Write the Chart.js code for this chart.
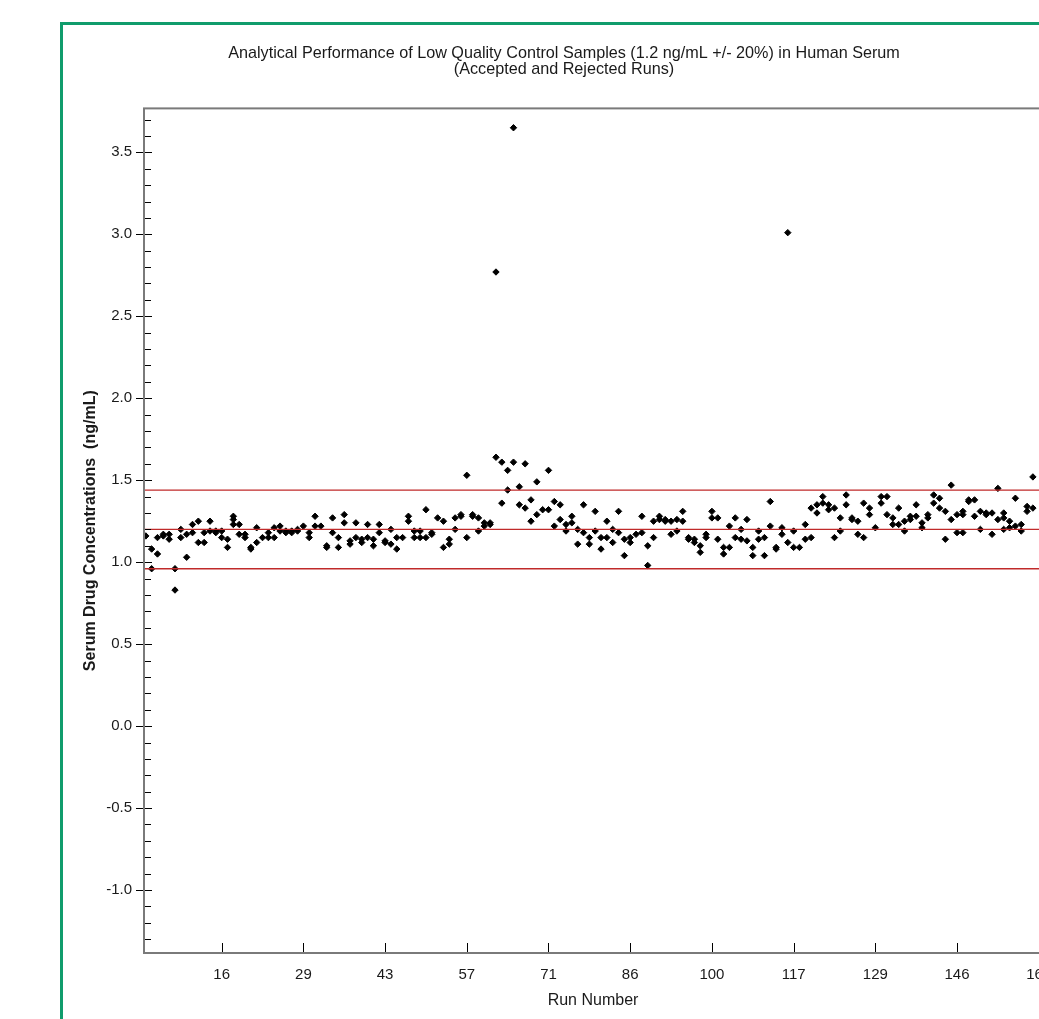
<!DOCTYPE html>
<html>
<head>
<meta charset="utf-8">
<title>Low QC samples</title>
<script src="https://cdn.jsdelivr.net/npm/chart.js@4"></script>
<style>
    html, body { margin: 0; padding: 0; overflow: hidden; background: #fff; }
    #frame {
        position: absolute;
        left: 60px;
        top: 22px;
        border: 3px solid #109c6c;
        width: 1002px;
        height: 1010px;
    }
</style>
</head>
<body>
<div id="frame"><canvas id="graphique" width="1002" height="1010"></canvas></div>
<script>
// QC results, one list per sequence position (2-3 replicates each)
const qcValues = [
    [1.16], [1.08, 0.96], [1.05, 1.15], [1.17, 1.16], [1.17, 1.14],
    [0.96, 0.83], [1.20, 1.15], [1.17, 1.03], [1.23, 1.18], [1.25, 1.12],
    [1.18, 1.12], [1.25, 1.19], [1.19, 1.18], [1.19, 1.15], [1.14, 1.09],
    [1.28, 1.26, 1.23], [1.23, 1.17], [1.17, 1.15], [1.09, 1.08], [1.21, 1.12],
    [1.15], [1.18, 1.15], [1.21, 1.15], [1.22, 1.19], [1.19, 1.18],
    [1.19, 1.18], [1.20, 1.19], [1.22], [1.18, 1.15], [1.28, 1.22],
    [1.22], [1.10, 1.09], [1.27, 1.18], [1.15, 1.09], [1.29, 1.24],
    [1.13, 1.11], [1.24, 1.15], [1.14, 1.12], [1.23, 1.15], [1.14, 1.10],
    [1.23, 1.18], [1.13, 1.12], [1.20, 1.11], [1.15, 1.08], [1.15],
    [1.28, 1.25], [1.19, 1.15], [1.19, 1.15], [1.32, 1.15], [1.18, 1.17],
    [1.27], [1.25, 1.09], [1.14, 1.11], [1.27, 1.20], [1.29, 1.28],
    [1.53, 1.15], [1.29, 1.28], [1.27, 1.19], [1.24, 1.22], [1.24, 1.23],
    [2.77, 1.64], [1.61, 1.36], [1.56, 1.44], [3.65, 1.61], [1.46, 1.35],
    [1.60, 1.33], [1.38, 1.25], [1.49, 1.29], [1.32], [1.56, 1.32],
    [1.37, 1.22], [1.35, 1.26], [1.23, 1.19], [1.28, 1.24], [1.20, 1.11],
    [1.35, 1.18], [1.15, 1.11], [1.31, 1.19], [1.15, 1.08], [1.25, 1.15],
    [1.20, 1.12], [1.31, 1.18], [1.14, 1.04], [1.15, 1.12], [1.17],
    [1.28, 1.18], [1.10, 0.98], [1.25, 1.15], [1.28, 1.26], [1.26, 1.25],
    [1.25, 1.17], [1.26, 1.19], [1.31, 1.25], [1.15, 1.14], [1.14, 1.12],
    [1.10, 1.06], [1.17, 1.15], [1.31, 1.27], [1.27, 1.14], [1.09, 1.05],
    [1.22, 1.09], [1.27, 1.15], [1.20, 1.14], [1.26, 1.13], [1.09, 1.04],
    [1.19, 1.14], [1.15, 1.04], [1.37, 1.22], [1.09, 1.08], [1.21, 1.17],
    [3.01, 1.12], [1.19, 1.09], [1.09], [1.23, 1.14], [1.33, 1.15],
    [1.35, 1.30], [1.40, 1.36], [1.35, 1.32], [1.33, 1.15], [1.27, 1.19],
    [1.41, 1.35], [1.27, 1.26], [1.25, 1.17], [1.36, 1.15], [1.33, 1.29],
    [1.21], [1.40, 1.36], [1.40, 1.29], [1.27, 1.23], [1.33, 1.23],
    [1.25, 1.19], [1.28, 1.26], [1.35, 1.28], [1.24, 1.21], [1.29, 1.27],
    [1.41, 1.36], [1.39, 1.33], [1.31, 1.14], [1.47, 1.26], [1.29, 1.18],
    [1.31, 1.29, 1.18], [1.38, 1.37], [1.38, 1.28], [1.31, 1.20], [1.30, 1.29],
    [1.30, 1.17], [1.45, 1.26], [1.30, 1.27, 1.20], [1.25, 1.21], [1.39, 1.22],
    [1.23, 1.19], [1.34, 1.31], [1.52, 1.33]
];

// run number labels shown on the x axis, and the positions they sit at
const tickIndex = [14, 28, 42, 56, 70, 84, 98, 112, 126, 140, 154];
const tickRuns = ['16', '29', '43', '57', '71', '86', '100', '117', '129', '146', '161'];

// nominal 1.2 ng/mL and +/- 20% acceptance limits
const qcLimits = [0.96, 1.2, 1.44];

const X_MIN = 0.69, X_MAX = 154.56;
const Y_MIN = -1.384, Y_MAX = 3.768;

const points = [];
qcValues.forEach((vals, i) => {
    vals.forEach(v => points.push({ x: i + 1, y: v }));
});

const limitSets = qcLimits.map(l => ({
    type: 'line',
    data: [{ x: X_MIN, y: l }, { x: X_MAX, y: l }],
    borderColor: '#c02a2a',
    borderWidth: 1.3,
    pointRadius: 0,
    order: 0
}));

const fontFam = "'Liberation Sans', Arial, sans-serif";

// cadre gris + petites graduations vers l'intérieur
const frameTicks = {
    id: 'frameTicks',
    afterDraw(chart) {
        const { ctx, chartArea: a, scales: { x, y } } = chart;
        ctx.save();
        ctx.strokeStyle = '#000';
        ctx.lineWidth = 1;
        ctx.beginPath();
        for (let k = Math.ceil(y.min * 10); k <= Math.floor(y.max * 10); k++) {
            const py = Math.round(y.getPixelForValue(k / 10)) + 0.5;
            const len = k % 5 === 0 ? 8 : 7;
            ctx.moveTo(a.left, py);
            ctx.lineTo(a.left + len, py);
        }
        x.ticks.forEach(t => {
            const px = Math.round(x.getPixelForValue(t.value)) + 0.5;
            ctx.moveTo(px, a.bottom);
            ctx.lineTo(px, a.bottom - 10);
        });
        ctx.stroke();
        ctx.strokeStyle = '#7a7a7a';
        ctx.lineWidth = 2;
        ctx.strokeRect(a.left, a.top, a.right - a.left, a.bottom - a.top);
        ctx.restore();
    }
};

new Chart(document.getElementById('graphique'), {
    type: 'scatter',
    data: {
        datasets: [
            ...limitSets,
            {
                data: points,
                pointStyle: 'rectRot',
                pointRadius: 3.2,
                borderWidth: 1,
                backgroundColor: '#000',
                borderColor: '#000',
                order: 1
            }
        ]
    },
    options: {
        responsive: false,
        animation: false,
        devicePixelRatio: 1,
        layout: { padding: 0 },
        plugins: {
            legend: { display: false },
            tooltip: { enabled: false },
            title: {
                display: true,
                text: ['Analytical Performance of Low Quality Control Samples (1.2 ng/mL +/- 20%) in Human Serum',
                       '(Accepted and Rejected Runs)'],
                color: '#1a1a1a',
                font: { family: fontFam, size: 16.2, weight: 'normal', lineHeight: 1.0 },
                padding: { top: 20, bottom: 31 }
            }
        },
        scales: {
            x: {
                type: 'linear',
                min: X_MIN,
                max: X_MAX,
                afterBuildTicks: s => { s.ticks = tickIndex.map(v => ({ value: v })); },
                afterFit: s => { s.height = 82; },
                grid: { display: false },
                border: { display: false },
                ticks: {
                    color: '#1a1a1a',
                    padding: 5,
                    maxRotation: 0,
                    autoSkip: false,
                    font: { family: fontFam, size: 15 },
                    callback: v => tickRuns[tickIndex.indexOf(v)]
                },
                title: {
                    display: true,
                    text: 'Run Number',
                    color: '#1a1a1a',
                    font: { family: fontFam, size: 16, lineHeight: 1.2 },
                    padding: { top: 0, bottom: 25 }
                }
            },
            y: {
                min: Y_MIN,
                max: Y_MAX,
                afterFit: s => { s.width = 81; },
                grid: { drawOnChartArea: false, drawTicks: true, tickLength: 8, color: '#000' },
                border: { display: false },
                ticks: {
                    stepSize: 0.5,
                    includeBounds: false,
                    color: '#1a1a1a',
                    padding: 4,
                    font: { family: fontFam, size: 15 },
                    callback: v => v.toFixed(1)
                },
                title: {
                    display: true,
                    text: 'Serum Drug Concentrations  (ng/mL)',
                    color: '#1a1a1a',
                    font: { family: fontFam, size: 16, weight: 'bold', lineHeight: 1.2 },
                    padding: { top: 18.4, bottom: 0 }
                }
            },
            // empty right-hand axis, only keeps space right of the plot
            yRight: {
                position: 'right',
                min: Y_MIN,
                max: Y_MAX,
                afterFit: s => { s.width = 23; },
                grid: { display: false },
                border: { display: false },
                ticks: { display: false }
            }
        }
    },
    plugins: [frameTicks]
});
</script>
</body>
</html>
